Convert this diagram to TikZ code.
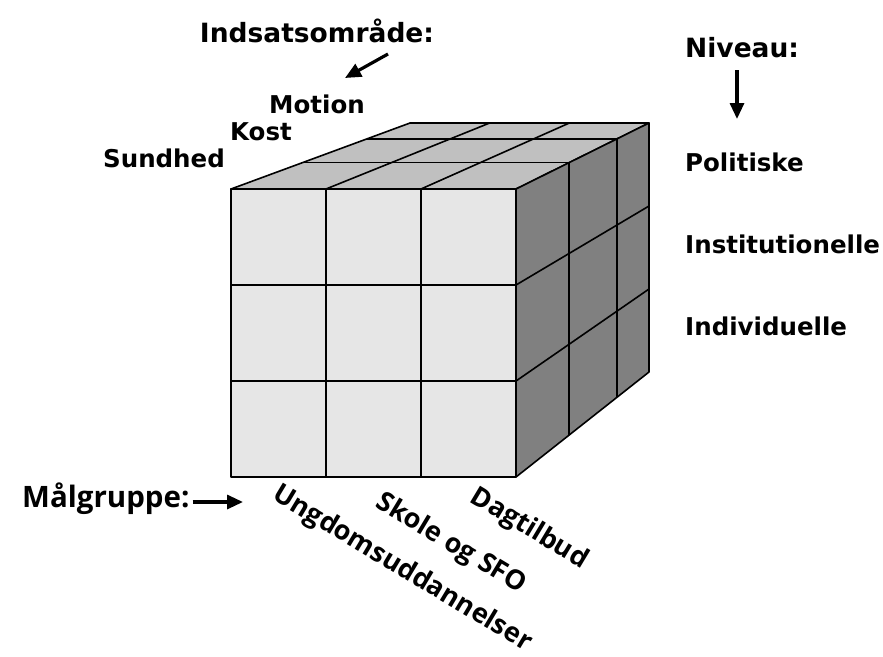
\documentclass[tikz,border=0pt]{standalone}
\usepackage{fontspec}
\setmainfont{DejaVu Sans}
\newfontfamily\groupfont{Open Sans}
\usepackage{tikz}
\usetikzlibrary{positioning, arrows.meta, calc}
\definecolor{cFront}{HTML}{E6E6E6}
\definecolor{cTop}{HTML}{C0C0C0}
\definecolor{cSide}{HTML}{808080}
\tikzset{
  face/.style={draw=black, line width=1.6pt, line join=round},
  cellline/.style={draw=black, line width=1.6pt},
  axistext/.style={font=\bfseries\fontsize{24.5}{29}\selectfont, inner sep=0pt},
  headtext/.style={font=\bfseries\fontsize{26.5}{31}\selectfont, inner sep=0pt},
  grouptext/.style={font=\groupfont\bfseries\fontsize{27}{32}\selectfont, inner sep=0pt, rotate=-31},
  pointer/.style={-{Triangle[length=16pt, width=14pt]}, line width=3.2pt},
}

\begin{document}
\begin{tikzpicture}[x=1pt, y=-1pt]
  \useasboundingbox (0,0) rectangle (883,656);

  % cube corners
  \coordinate (ftl) at (231,189);
  \coordinate (ftr) at (516,189);
  \coordinate (fbr) at (516,477);
  \coordinate (fbl) at (231,477);
  \coordinate (btl) at (410,123);
  \coordinate (btr) at (649,123);
  \coordinate (bbr) at (649,372);

  % front face
  \fill[cFront] (ftl) rectangle (fbr);
  \foreach \k in {1,2} {
    \draw[cellline] ($(ftl)!\k/3!(ftr)$) -- ($(fbl)!\k/3!(fbr)$);
    \draw[cellline] ($(ftl)!\k/3!(fbl)$) -- ($(ftr)!\k/3!(fbr)$);
  }
  \draw[face] (ftl) rectangle (fbr);

  % top face
  \filldraw[face, fill=cTop] (ftl) -- (ftr) -- (btr) -- (btl) -- cycle;
  \foreach \k in {1,2}
    \draw[cellline] ($(ftl)!\k/3!(ftr)$) -- ($(btl)!\k/3!(btr)$);
  \foreach \t in {0.4,0.76}
    \draw[cellline] ($(ftl)!\t!(btl)$) -- ($(ftr)!\t!(btr)$);

  % right face
  \filldraw[face, fill=cSide] (ftr) -- (fbr) -- (bbr) -- (btr) -- cycle;
  \foreach \k in {1,2}
    \draw[cellline] ($(ftr)!\k/3!(fbr)$) -- ($(btr)!\k/3!(bbr)$);
  \foreach \t in {0.4,0.76}
    \draw[cellline] ($(ftr)!\t!(btr)$) -- ($(fbr)!\t!(bbr)$);

  % Indsatsomraade
  \node[headtext, anchor=base] (indsats) at (317,42) {Indsatsområde:};
  \coordinate (indsatsfrom) at (388,54);
  \coordinate (indsatsto) at (345,78);
  \draw[pointer] (indsatsfrom) -- (indsatsto);
  \node[axistext, anchor=base] (motion) at (317,113) {Motion};
  \node[axistext, anchor=base] (kost) at (261,140) {Kost};
  \node[axistext, anchor=base] (sundhed) at (164,167) {Sundhed};

  % Niveau
  \node[headtext, anchor=base west] (niveau) at (685,57) {Niveau:};
  \coordinate (niveaufrom) at (737,70);
  \coordinate (niveauto) at (737,119);
  \draw[pointer] (niveaufrom) -- (niveauto);
  \node[axistext, anchor=base west] (politisk) at (685,171) {Politiske};
  \node[axistext, below=82pt of politisk.base west, anchor=base west] (institut) {Institutionelle};
  \node[axistext, below=82pt of institut.base west, anchor=base west] (individ) {Individuelle};

  % Maalgruppe
  \node[headtext, font=\groupfont\bfseries\fontsize{29.5}{34}\selectfont, anchor=base west] (maal) at (22,507) {Målgruppe:};
  \coordinate (maalto) at (243,502);
  \draw[pointer] ([xshift=3pt]maal.east |- maalto) -- (maalto);
  \node[grouptext] (dagtilbud) at (529,529) {Dagtilbud};
  \node[grouptext] (skole) at (451,544) {Skole og SFO};
  \node[grouptext] (ungdom) at (402,569) {Ungdomsuddannelser};

\end{tikzpicture}
\end{document}
